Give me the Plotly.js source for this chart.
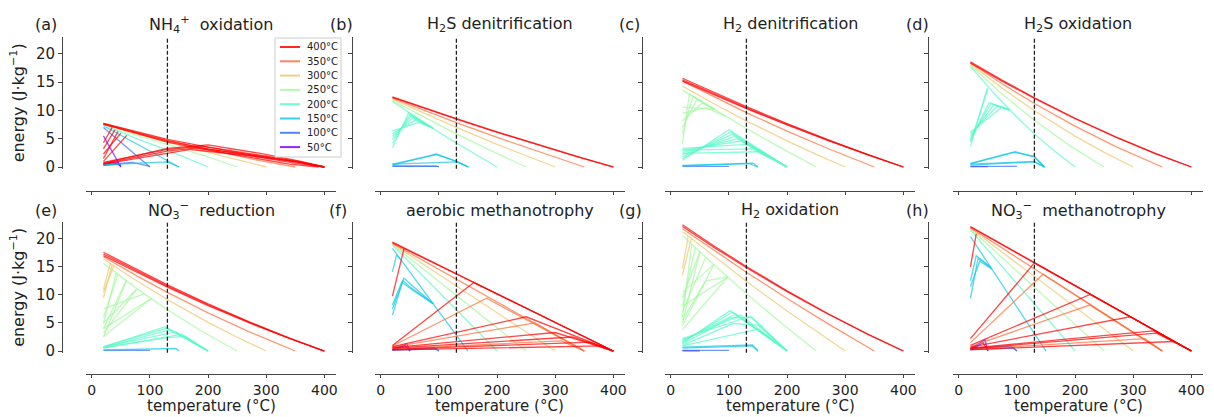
<!DOCTYPE html>
<html><head><meta charset="utf-8">
<script src="https://cdn.plot.ly/plotly-3.0.1.min.js"></script>
<style>html,body{margin:0;padding:0;background:#fff}#chart{width:1214px;height:417px}</style>
</head><body><div id="chart"></div>
<script>
// ---------- data ----------
const maxTemps = [400, 350, 300, 250, 200, 150, 100, 50];
const legendLabels = ['400°C', '350°C', '300°C', '250°C', '200°C', '150°C', '100°C', '50°C'];
const xTicks = [0, 100, 200, 300, 400];
const yTicks = [0, 5, 10, 15, 20];
const refTemp = 130;
const panelLetters = ['(a)', '(b)', '(c)', '(d)', '(e)', '(f)', '(g)', '(h)'];
const panelTitles = [
  'NH<sub>4</sub><sup>+</sup>  oxidation', 'H<sub>2</sub>S denitrification', 'H<sub>2</sub> denitrification', 'H<sub>2</sub>S oxidation',
  'NO<sub>3</sub><sup>−</sup>  reduction', 'aerobic methanotrophy', 'H<sub>2</sub> oxidation', 'NO<sub>3</sub><sup>−</sup>  methanotrophy'
];
const xTitle = 'temperature (°C)';
const yTitle = 'energy (J·kg<sup>−1</sup>)';

// each line: [max temperature, temperatures, energies]
const linesA = [
  [400, [20, 80, 130, 200, 280, 350, 400], [7.7, 6.1, 4.9, 3.5, 2.0, 0.9, 0]],
  [400, [20, 80, 130, 200, 280, 350, 400], [7.6, 5.9, 4.6, 3.2, 1.8, 0.7, 0]],
  [400, [20, 80, 130, 200, 280, 340, 390], [7.6, 5.8, 4.4, 3.0, 1.5, 0.5, 0]],
  [400, [20, 45], [1.5, 6.3]],
  [400, [20, 50], [2.3, 6.0]],
  [400, [20, 40], [3.2, 6.6]],
  [400, [20, 60], [1.0, 5.6]],
  [400, [20, 35], [4.3, 7.0]],
  [400, [20, 130, 180, 280, 350, 400], [0.6, 2.8, 3.4, 2.1, 1.0, 0]],
  [400, [20, 130, 190, 280, 350, 400], [0.8, 3.1, 3.7, 2.3, 1.1, 0]],
  [400, [20, 130, 170, 280, 360, 400], [0.5, 2.5, 3.1, 1.9, 0.8, 0]],
  [400, [20, 130, 200, 290, 360, 400], [0.7, 3.3, 3.9, 2.4, 1.0, 0]],
  [350, [20, 80, 130, 200, 280, 350], [7.7, 6.0, 4.7, 3.1, 1.3, 0]],
  [300, [20, 80, 130, 200, 300], [7.7, 5.8, 4.4, 2.6, 0]],
  [250, [20, 80, 130, 200, 250], [7.6, 5.5, 4.0, 1.8, 0]],
  [200, [20, 80, 130, 200], [7.5, 4.9, 3.0, 0]],
  [150, [20, 80, 150], [7.3, 3.9, 0]],
  [150, [20, 130, 150], [0.4, 0.9, 0]],
  [100, [20, 100], [7.0, 0]],
  [100, [20, 70, 100], [0.4, 0.8, 0.1]],
  [50, [20, 50], [5.5, 0]],
  [50, [20, 35, 50], [0.4, 0.9, 0.2]],
  [50, [20, 45, 50], [0.5, 0.8, 0]],
  [50, [20, 50], [0.3, 0.5]]
];
const linesB = [
  [400, [20, 75, 130, 200, 270, 340, 400], [12.4, 10.45, 8.56, 6.22, 3.96, 1.79, 0]],
  [400, [20, 75, 130, 200, 270, 340, 400], [12.3, 10.35, 8.46, 6.14, 3.90, 1.76, 0]],
  [350, [20, 75, 130, 200, 270, 350], [12.2, 10.0, 7.86, 5.24, 2.73, 0]],
  [300, [20, 75, 130, 200, 250, 300], [12.0, 9.45, 7.0, 4.01, 1.97, 0]],
  [250, [20, 75, 130, 190, 250], [11.8, 8.76, 5.86, 2.85, 0]],
  [200, [20, 60, 100, 130, 160, 200], [11.6, 8.82, 6.16, 4.24, 2.38, 0]],
  [200, [20, 48, 90], [3.4, 9.6, 6.85]],
  [200, [20, 50, 90], [4.2, 9.3, 6.85]],
  [200, [20, 52, 90], [4.9, 9.0, 6.85]],
  [200, [20, 55, 90], [5.4, 8.7, 6.85]],
  [200, [20, 60, 90], [5.9, 8.3, 6.85]],
  [200, [20, 66, 90], [6.4, 7.9, 6.85]],
  [150, [20, 96, 131, 151], [0.35, 2.3, 0.94, 0]],
  [150, [20, 95, 128, 150], [0.5, 2.2, 1.1, 0]],
  [150, [20, 131, 151], [0.5, 0.9, 0]],
  [100, [20, 100], [0.1, 0.1]],
  [100, [20, 95, 100], [0.2, 0.15, 0]]
];
const linesC = [
  [400, [20, 75, 130, 200, 270, 340, 400], [15.7, 13.14, 10.67, 7.68, 4.84, 2.17, 0]],
  [400, [20, 75, 130, 200, 270, 340, 400], [15.4, 12.89, 10.47, 7.53, 4.75, 2.13, 0]],
  [400, [20, 75, 130, 200, 270, 340, 400], [15.2, 12.72, 10.33, 7.43, 4.69, 2.10, 0]],
  [350, [20, 75, 130, 200, 270, 350], [15.2, 12.35, 9.63, 6.34, 3.27, 0]],
  [300, [20, 75, 130, 200, 250, 300], [14.3, 11.15, 8.17, 4.61, 2.24, 0]],
  [250, [20, 75, 130, 190, 250], [13.6, 10.15, 6.82, 3.34, 0]],
  [250, [20, 32, 75], [4.2, 12.9, 10.15]],
  [250, [20, 38, 75], [5.9, 12.5, 10.15]],
  [250, [20, 45, 75], [7.0, 12.0, 10.15]],
  [250, [20, 55, 75], [8.2, 11.4, 10.15]],
  [250, [20, 60, 95], [9.5, 10.5, 8.94]],
  [250, [20, 74], [10.6, 10.2]],
  [200, [20, 100, 200], [1.2, 6.6, 0]],
  [200, [20, 103, 200], [1.5, 6.2, 0]],
  [200, [20, 106, 200], [1.8, 5.8, 0]],
  [200, [20, 110, 200], [2.2, 5.4, 0]],
  [200, [20, 115, 200], [2.6, 5.0, 0]],
  [200, [20, 120, 200], [3.0, 4.6, 0]],
  [200, [20, 130, 200], [3.3, 4.0, 0]],
  [200, [20, 140, 200], [3.0, 3.2, 0]],
  [200, [20, 150, 200], [2.4, 2.7, 0]],
  [150, [20, 130, 142, 150], [0.3, 0.7, 0.7, 0]],
  [150, [20, 135, 150], [0.2, 0.6, 0]],
  [100, [20, 100], [0.1, 0.1]]
];
const linesD = [
  [400, [20, 75, 130, 200, 270, 340, 400], [18.6, 15.33, 12.26, 8.63, 5.32, 2.32, 0]],
  [400, [20, 75, 130, 200, 270, 340, 400], [18.4, 15.16, 12.13, 8.54, 5.26, 2.29, 0]],
  [350, [20, 75, 130, 200, 270, 350], [18.4, 14.69, 11.24, 7.22, 3.62, 0]],
  [300, [20, 75, 130, 200, 250, 300], [18.2, 13.91, 9.96, 5.46, 2.58, 0]],
  [250, [20, 75, 130, 190, 250], [18.0, 12.88, 8.27, 3.83, 0]],
  [200, [20, 60, 100, 130, 160, 200], [17.8, 13.08, 8.79, 5.86, 3.19, 0]],
  [200, [20, 49], [3.6, 14.0]],
  [200, [20, 50], [4.4, 13.8]],
  [200, [20, 52, 87], [4.6, 11.4, 10.1]],
  [200, [20, 55, 87], [5.0, 11.2, 10.1]],
  [200, [20, 60, 87], [5.4, 11.0, 10.1]],
  [200, [20, 66, 87], [5.8, 10.8, 10.1]],
  [200, [20, 75, 87], [6.2, 10.6, 10.1]],
  [150, [20, 97, 129, 147], [0.65, 2.7, 1.8, 0]],
  [150, [20, 95, 130, 148], [0.55, 2.6, 1.9, 0]],
  [150, [20, 129, 147], [0.5, 1.0, 0]],
  [150, [20, 130, 148], [0.35, 0.9, 0]],
  [100, [20, 100], [0.1, 0.1]],
  [50, [20, 50], [0.05, 0.05]]
];
const linesE = [
  [400, [20, 75, 130, 200, 270, 340, 400], [17.6, 14.62, 11.78, 8.39, 5.23, 2.31, 0]],
  [400, [20, 75, 130, 200, 270, 340, 400], [17.3, 14.37, 11.58, 8.25, 5.14, 2.27, 0]],
  [400, [20, 75, 130, 200, 270, 340, 400], [17.0, 14.12, 11.38, 8.10, 5.05, 2.23, 0]],
  [350, [20, 75, 130, 200, 270, 350], [16.8, 13.53, 10.45, 6.80, 3.46, 0]],
  [300, [20, 75, 130, 200, 250, 300], [16.4, 12.66, 9.17, 5.10, 2.45, 0]],
  [300, [20, 35], [9.5, 15.4]],
  [300, [20, 32], [11.0, 15.7]],
  [300, [20, 38], [10.5, 15.2]],
  [250, [20, 75, 130, 190, 250], [15.6, 11.30, 7.36, 3.47, 0]],
  [250, [20, 42], [5.0, 13.9]],
  [250, [20, 45], [6.0, 13.6]],
  [250, [20, 60], [2.5, 12.6]],
  [250, [20, 60], [4.0, 12.7]],
  [250, [20, 77], [3.2, 11.0]],
  [250, [20, 77], [5.0, 11.0]],
  [250, [20, 103], [2.6, 9.4]],
  [250, [20, 103], [4.0, 9.4]],
  [250, [20, 90], [7.5, 10.2]],
  [200, [20, 125, 200], [0.7, 4.3, 0]],
  [200, [20, 130, 200], [0.8, 4.1, 0]],
  [200, [20, 135, 200], [0.6, 3.8, 0]],
  [200, [20, 145, 200], [0.7, 3.4, 0]],
  [200, [20, 155, 200], [0.5, 3.0, 0]],
  [200, [20, 130, 160, 200], [0.6, 2.4, 2.6, 0]],
  [150, [20, 130, 145, 150], [0.2, 0.5, 0.45, 0]],
  [100, [20, 100], [0.1, 0.1]]
];
const linesF = [
  [400, [20, 400], [19.3, 0]],
  [400, [20, 400], [19.4, 0]],
  [350, [20, 350], [19.2, 0]],
  [300, [20, 300], [19.1, 0]],
  [250, [20, 250], [19.0, 0]],
  [200, [20, 200], [18.9, 0]],
  [150, [20, 150], [18.3, 0]],
  [400, [20, 40], [9.8, 18.3]],
  [400, [20, 160, 400], [1.0, 12.2, 0]],
  [350, [20, 182, 350], [0.9, 9.4, 0]],
  [400, [20, 250, 400], [0.8, 6.1, 0]],
  [350, [20, 265, 350], [0.7, 5.0, 0]],
  [400, [20, 300, 400], [0.6, 3.3, 0]],
  [400, [20, 330, 400], [0.5, 2.5, 0]],
  [350, [20, 310, 350], [0.4, 1.8, 0]],
  [400, [20, 360, 400], [0.3, 1.6, 0]],
  [400, [20, 380, 400], [0.2, 0.9, 0]],
  [150, [20, 27, 33], [14.1, 17.1, 16.4]],
  [150, [20, 38, 50, 90], [6.4, 12.6, 11.4, 8.45]],
  [150, [20, 40, 52, 90], [7.5, 13.0, 11.8, 8.45]],
  [150, [20, 36, 50, 90], [8.2, 12.3, 11.2, 8.45]],
  [100, [20, 90, 100], [0.2, 0.6, 0]],
  [100, [20, 95, 100], [0.1, 0.4, 0]],
  [50, [20, 45, 50], [0.3, 1.25, 0]],
  [50, [20, 42, 50], [0.1, 1.0, 0]]
];
const linesG = [
  [400, [20, 75, 130, 200, 270, 340, 400], [22.5, 18.69, 15.06, 10.72, 6.68, 2.95, 0]],
  [400, [20, 75, 130, 200, 270, 340, 400], [22.2, 18.44, 14.86, 10.58, 6.60, 2.91, 0]],
  [350, [20, 75, 130, 200, 270, 350], [21.8, 17.86, 14.05, 9.37, 4.88, 0]],
  [300, [20, 75, 130, 200, 250, 300], [21.3, 16.78, 12.42, 7.12, 3.49, 0]],
  [300, [20, 30], [14.7, 20.5]],
  [300, [20, 35], [13.5, 20.0]],
  [250, [20, 75, 130, 190, 250], [20.6, 15.30, 10.23, 4.98, 0]],
  [250, [20, 36], [6.0, 19.0]],
  [250, [20, 42], [8.0, 18.4]],
  [250, [20, 50], [5.0, 17.7]],
  [250, [20, 50], [9.5, 17.7]],
  [250, [20, 60], [7.0, 16.7]],
  [250, [20, 74], [4.5, 15.4]],
  [250, [20, 74], [10.5, 15.4]],
  [250, [20, 98], [3.8, 13.2]],
  [250, [20, 98], [8.0, 13.2]],
  [250, [20, 60, 98], [5.5, 12.5, 13.2]],
  [200, [20, 102, 200], [1.4, 7.2, 0]],
  [200, [20, 106, 200], [1.6, 6.9, 0]],
  [200, [20, 112, 200], [1.8, 6.6, 0]],
  [200, [20, 120, 200], [2.0, 6.4, 0]],
  [200, [20, 136, 200], [2.2, 6.2, 0]],
  [200, [20, 102, 140, 200], [1.2, 5.9, 6.0, 0]],
  [200, [20, 107, 150, 200], [1.0, 4.9, 4.6, 0]],
  [200, [20, 150, 200], [0.9, 3.9, 0]],
  [150, [20, 140, 150], [0.7, 1.1, 0]],
  [150, [20, 140, 150], [0.5, 0.9, 0]],
  [100, [20, 100], [0.1, 0.1]],
  [50, [20, 50], [0.05, 0.05]]
];
const linesH = [
  [400, [20, 400], [22.1, 0]],
  [400, [20, 400], [22.2, 0]],
  [350, [20, 350], [22.0, 0]],
  [300, [20, 300], [21.9, 0]],
  [250, [20, 250], [21.8, 0]],
  [200, [20, 200], [21.6, 0]],
  [150, [20, 150], [20.4, 0]],
  [400, [20, 130, 400], [2.2, 15.7, 0]],
  [350, [20, 145, 350], [1.5, 13.7, 0]],
  [400, [20, 226, 400], [1.0, 10.1, 0]],
  [350, [20, 225, 350], [0.8, 8.2, 0]],
  [400, [20, 295, 400], [0.7, 6.1, 0]],
  [400, [20, 335, 400], [0.5, 3.6, 0]],
  [400, [20, 340, 400], [0.4, 3.2, 0]],
  [350, [20, 320, 350], [0.3, 2.2, 0]],
  [400, [20, 370, 400], [0.25, 1.7, 0]],
  [400, [20, 30], [15.0, 20.9]],
  [150, [20, 33, 42, 55], [9.4, 16.5, 15.9, 14.9]],
  [150, [20, 36, 45, 57], [11.5, 16.0, 15.4, 14.6]],
  [150, [20, 30, 40, 55], [12.5, 17.0, 16.2, 14.9]],
  [100, [20, 90, 100], [0.5, 0.8, 0]],
  [100, [20, 95, 100], [0.2, 0.5, 0]],
  [50, [20, 45, 50], [0.4, 2.0, 0]],
  [50, [20, 42, 50], [0.2, 1.5, 0]]
];
const allLines = [linesA, linesB, linesC, linesD, linesE, linesF, linesG, linesH];

// ---------- styles / geometry ----------
const tempColors = {400: '255,0,0', 350: '255,111,57', 300: '237,199,111', 250: '164,249,159',
                    200: '91,249,199', 150: '18,199,230', 100: '55,111,249', 50: '128,0,255'};
const W = 1214, H = 417;
const FONT = 'DejaVu Sans, sans-serif';
const colGeom = [ {xl: 86, xr: 336, spine: 62}, {xl: 375, xr: 625, spine: 352},
                  {xl: 665, xr: 915, spine: 642}, {xl: 953, xr: 1203, spine: 928} ];
const rowGeom = [ {yb: 168.7, yt: 37, xline: 191, ttl: 25}, {yb: 352.7, yt: 222, xline: 374, ttl: 211} ];
const letterX = [46, 341, 629, 918, 46, 338, 630, 918];
const px = v => v / W, py = v => 1 - v / H;

const traces = [];
const layout = {
  width: W, height: H, margin: {l: 0, r: 0, t: 0, b: 0},
  paper_bgcolor: '#fff', plot_bgcolor: 'rgba(0,0,0,0)',
  font: {family: FONT, color: '#222'},
  showlegend: false, annotations: [], shapes: []
};
const axColor = '#444';

for (let p = 0; p < 8; p++) {
  const r = Math.floor(p / 4), c = p % 4;
  const cg = colGeom[c], rg = rowGeom[r];
  const s = p === 0 ? '' : String(p + 1);
  const lines = allLines[p].slice().sort((a, b) => a[0] - b[0]);
  lines.forEach(l => {
    traces.push({type: 'scatter', mode: 'lines', x: l[1], y: l[2], xaxis: 'x' + s, yaxis: 'y' + s,
      line: {color: 'rgba(' + tempColors[l[0]] + ',0.72)', width: 1.3}, hoverinfo: 'skip', showlegend: false});
  });
  const xa = {
    domain: [px(cg.xl), px(cg.xr)], range: [-10, 420], anchor: 'free', position: py(rg.xline),
    showgrid: false, zeroline: false, showline: true, linecolor: axColor, linewidth: 1.1,
    ticks: 'outside', ticklen: 3, tickcolor: axColor, tickvals: xTicks, ticktext: xTicks.map(String),
    showticklabels: r === 1, tickfont: {size: 14, family: FONT, color: '#222'}
  };
  const ya = {
    domain: [py(rg.yb), py(rg.yt)], range: [-0.3, 23], anchor: 'free', position: px(cg.spine),
    showgrid: false, zeroline: false, showline: true, linecolor: axColor, linewidth: 1.1,
    ticks: 'outside', ticklen: 4, tickcolor: axColor, tickvals: yTicks, ticktext: yTicks.map(String),
    showticklabels: c === 0, tickfont: {size: 15, family: FONT, color: '#222'}
  };
  if (c === 0) ya.title = {text: yTitle, font: {size: 16, family: FONT, color: '#222'}, standoff: 6};
  layout['xaxis' + s] = xa;
  layout['yaxis' + s] = ya;
  if (r === 1) {
    layout.annotations.push({xref: 'paper', yref: 'paper', x: (px(cg.xl) + px(cg.xr)) / 2, y: py(406),
      text: xTitle, showarrow: false, xanchor: 'center', yanchor: 'middle', font: {size: 15, family: FONT, color: '#222'}});
  }
  layout.shapes.push({type: 'line', xref: 'x' + s, yref: 'y' + s + ' domain', x0: refTemp, x1: refTemp, y0: 0, y1: 1,
    line: {color: '#222', width: 1.3, dash: '4px,2px'}});
  layout.annotations.push({xref: 'paper', yref: 'paper', x: (px(cg.xl) + px(cg.xr)) / 2, y: py(rg.ttl),
    text: panelTitles[p], showarrow: false, xanchor: 'center', yanchor: 'middle', font: {size: 16, family: FONT, color: '#222'}});
  layout.annotations.push({xref: 'paper', yref: 'paper', x: px(letterX[p]), y: py(rg.ttl),
    text: panelLetters[p], showarrow: false, xanchor: 'center', yanchor: 'middle', font: {size: 16, family: FONT, color: '#222'}});
}

// manual legend in panel (a)
layout.shapes.push({type: 'rect', xref: 'paper', yref: 'paper', x0: px(275), x1: px(341), y0: py(157), y1: py(38),
  fillcolor: 'rgba(255,255,255,0.9)', line: {color: '#cccccc', width: 1}});
maxTemps.forEach((T, i) => {
  const yy = 47 + i * 14.3;
  layout.shapes.push({type: 'line', xref: 'paper', yref: 'paper', x0: px(280), x1: px(300), y0: py(yy), y1: py(yy),
    line: {color: 'rgba(' + tempColors[T] + ',0.85)', width: 2}});
  layout.annotations.push({xref: 'paper', yref: 'paper', x: px(305), y: py(yy), text: legendLabels[i], showarrow: false,
    xanchor: 'left', yanchor: 'middle', font: {size: 10, family: FONT, color: '#222'}});
});

Plotly.newPlot('chart', traces, layout, {staticPlot: true, displayModeBar: false});
</script>
</body></html>
